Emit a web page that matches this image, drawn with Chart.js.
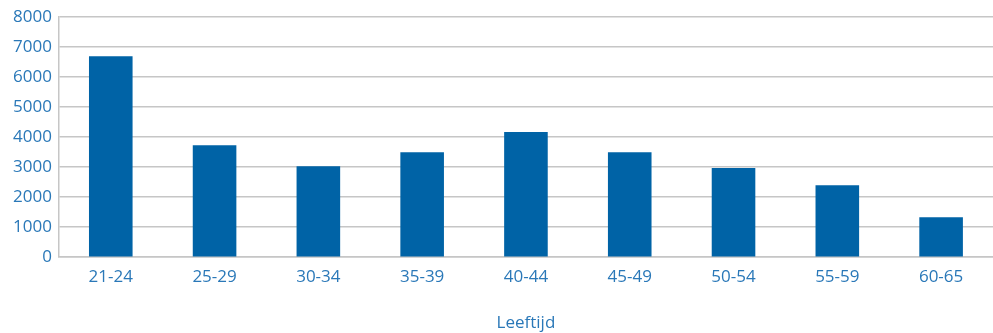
<!DOCTYPE html>
<html>
<head>
<meta charset="utf-8">
<script src="https://cdn.jsdelivr.net/npm/chart.js@4/dist/chart.umd.min.js"></script>
<style>
  html, body { margin: 0; padding: 0; background: #fff; }
  #wrap { width: 993px; height: 333px; }
</style>
</head>
<body>
<div id="wrap"><canvas id="c" width="993" height="333"></canvas></div>
<script>
// Age groups and counts per group
const categories = ['21-24', '25-29', '30-34', '35-39', '40-44', '45-49', '50-54', '55-59', '60-65'];
const counts = [6700, 3730, 3030, 3500, 4170, 3500, 2970, 2400, 1330];
const yTicks = [0, 1000, 2000, 3000, 4000, 5000, 6000, 7000, 8000];
const xTitle = 'Leeftijd';

const textColor = '#2a78b8';
const barColor = '#0063a6';
const gridColor = '#c6c6c6';
const font = { family: '"Open Sans", "Noto Sans", sans-serif', size: 17 };

new Chart(document.getElementById('c'), {
  type: 'bar',
  data: {
    labels: categories,
    datasets: [{
      data: counts,
      backgroundColor: barColor,
      borderWidth: 0,
      barPercentage: 0.6,
      categoryPercentage: 0.7
    }]
  },
  options: {
    responsive: false,
    animation: false,
    devicePixelRatio: 1,
    layout: { padding: { left: 6, right: 0, top: 8, bottom: 0 } },
    plugins: { legend: { display: false }, tooltip: { enabled: false } },
    scales: {
      x: {
        grid: { display: false, drawTicks: false },
        border: { display: true, color: gridColor, width: 1.5 },
        ticks: { color: textColor, font: font, padding: 10, maxRotation: 0 },
        title: { display: true, text: xTitle, color: textColor, font: font, padding: { top: 15, bottom: 0 } }
      },
      y: {
        min: 0,
        max: 8000,
        afterBuildTicks: (axis) => { axis.ticks = yTicks.map(v => ({ value: v })); },
        grid: { color: gridColor, lineWidth: 1.5, drawTicks: false },
        border: { display: true, color: gridColor, width: 1.5 },
        ticks: { color: textColor, font: font, padding: 7, callback: (v) => String(v) }
      }
    }
  }
});
</script>
</body>
</html>
